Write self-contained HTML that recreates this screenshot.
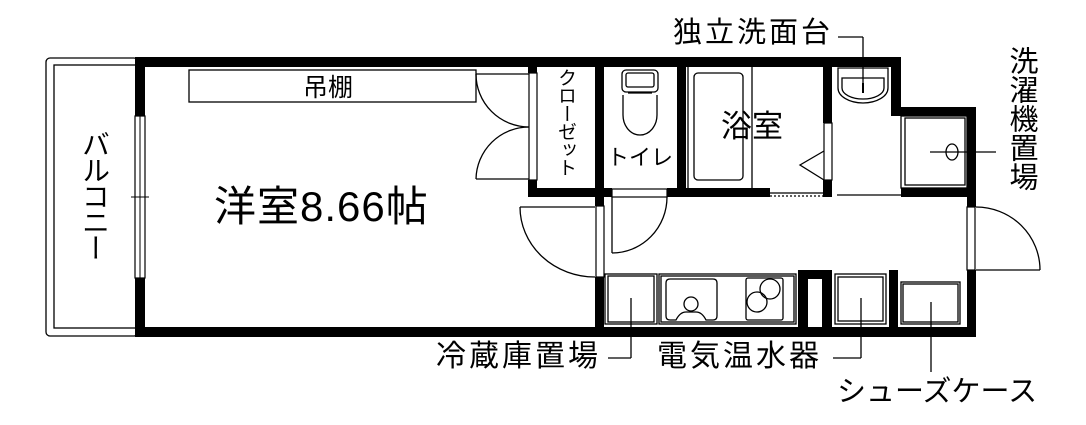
<!DOCTYPE html>
<html><head><meta charset="utf-8"><style>
html,body{margin:0;padding:0;background:#fff;}
body{width:1086px;height:425px;position:relative;overflow:hidden;font-family:"Liberation Sans","Noto Sans CJK JP",sans-serif;color:#000;}
svg{position:absolute;left:0;top:0;}
.t{position:absolute;white-space:nowrap;line-height:1;}
.v{position:absolute;writing-mode:vertical-rl;line-height:1;white-space:nowrap;}
</style></head><body>
<svg width="1086" height="425" viewBox="0 0 1086 425">
<g fill="none" stroke="#000" stroke-width="1.3">
  <rect x="46" y="58" width="92" height="278" rx="4"/>
  <rect x="54" y="65" width="84" height="263"/>
  <rect x="189" y="70" width="287" height="32"/>
  <line x1="476" y1="74" x2="529" y2="74"/>
  <line x1="529" y1="179" x2="476" y2="179"/>
  <path d="M476 74 A53 53 0 0 0 529 127"/>
  <path d="M476 179 A53 53 0 0 1 529 127"/>
  <line x1="520" y1="207" x2="595" y2="207"/>
  <path d="M520 207 A75 70 0 0 0 595 277"/>
  <line x1="612" y1="197" x2="612" y2="253"/>
  <path d="M667 197 A55 56 0 0 1 612 253"/>
  <line x1="976" y1="270" x2="1040" y2="270"/>
  <path d="M976 207 A64 63 0 0 1 1040 270"/>
  <rect x="622" y="70" width="36" height="22" rx="4"/>
  <rect x="626" y="73" width="28" height="14" rx="2"/>
  <line x1="628" y1="93" x2="652" y2="93"/>
  <path d="M623 95 L623 115 A17 20 0 0 0 657 115 L657 95"/>
  <rect x="694" y="73" width="49" height="107" rx="4"/>
  <line x1="752" y1="67" x2="752" y2="188"/>
  <line x1="688" y1="67" x2="688" y2="188"/>
  <path d="M824 151 L800 165 L824 180"/>
  <path d="M838 68 L888 68 L888 88 A25 15 0 0 1 838 88 Z"/>
  <path d="M842 78 L884 78 L884 88 A21 11 0 0 1 842 88 Z"/>
  <rect x="905" y="118" width="60" height="67"/>
  <rect x="901" y="116" width="66" height="72"/>
  <ellipse cx="952" cy="152" rx="6" ry="8"/>
  <line x1="930" y1="152" x2="996" y2="152"/>
  <line x1="837" y1="195" x2="901" y2="195"/>
  <line x1="770" y1="196" x2="832" y2="196" stroke-dasharray="2 2"/>
  <line x1="770" y1="193" x2="832" y2="193"/>
  <rect x="605" y="274" width="52" height="50"/>
  <rect x="608" y="276" width="46" height="46"/>
  <rect x="659" y="274" width="137" height="50"/>
  <rect x="661" y="276" width="133" height="46"/>
  <path d="M666 283 Q666 279 670 279 L713 279 Q717 279 717 283 L717 316 Q717 320 713 320 L706 320 Q702 312 696 312 L686 312 Q680 312 676 320 L670 320 Q666 320 666 316 Z"/>
  <circle cx="691" cy="304" r="7"/>
  <rect x="746" y="278" width="37" height="42" rx="2"/>
  <circle cx="770" cy="289" r="10"/>
  <circle cx="757" cy="302" r="10"/>
  <rect x="835" y="274" width="51" height="50"/>
  <rect x="838" y="277" width="45" height="44"/>
  <rect x="901" y="282" width="59" height="42"/>
  <rect x="903" y="284" width="55" height="38"/>
  <line x1="631" y1="298" x2="631" y2="358"/>
  <line x1="608" y1="358" x2="631" y2="358"/>
  <line x1="861" y1="298" x2="861" y2="358"/>
  <line x1="833" y1="358" x2="861" y2="358"/>
  <line x1="931" y1="302" x2="931" y2="372"/>
  <line x1="838" y1="37" x2="863" y2="37"/>
  <line x1="863" y1="37" x2="863" y2="88"/>
</g>
<g fill="#000">
  <rect x="135" y="57" width="766" height="10"/>
  <rect x="135" y="57" width="10" height="59"/>
  <rect x="135" y="278" width="10" height="58"/>
  <rect x="135" y="327" width="841" height="10"/>
  <rect x="891" y="57" width="10" height="59"/>
  <rect x="891" y="107" width="85" height="9"/>
  <rect x="967" y="107" width="9" height="100"/>
  <rect x="967" y="270" width="9" height="67"/>
  <rect x="528" y="57" width="9" height="16"/>
  <rect x="528" y="180" width="9" height="17"/>
  <rect x="528" y="188" width="77" height="9"/>
  <rect x="595" y="57" width="9" height="149"/>
  <rect x="595" y="277" width="9" height="60"/>
  <rect x="677" y="57" width="9" height="140"/>
  <rect x="604" y="188" width="8" height="9"/>
  <rect x="667" y="188" width="103" height="9"/>
  <rect x="823" y="57" width="9" height="66"/>
  <rect x="823" y="180" width="9" height="17"/>
  <rect x="901" y="188" width="75" height="9"/>
  <rect x="798" y="270" width="34" height="67"/>
  <rect x="889" y="270" width="9" height="60"/>
  <rect x="862" y="83" width="2" height="10"/>
</g>
<rect x="808" y="279" width="14" height="48" fill="#fff"/>
<g fill="#fff" stroke="#000" stroke-width="1.2">
  <rect x="135" y="116" width="10" height="162"/>
  <rect x="529" y="73" width="8" height="107"/>
  <rect x="596" y="206" width="8" height="71"/>
  <rect x="612" y="189" width="55" height="8"/>
  <rect x="824" y="123" width="8" height="57"/>
  <rect x="967" y="207" width="8" height="63"/>
</g>
<g stroke="#000" stroke-width="1">
  <line x1="140" y1="116" x2="140" y2="278"/>
  <line x1="131" y1="197" x2="149" y2="197"/>
</g>
</svg>
<div class="t" style="left:303px;top:76px;font-size:25px;">吊棚</div>
<div class="t" style="left:214px;top:186px;font-size:42px;letter-spacing:1px;">洋室8.66帖</div>
<div class="v" style="left:80px;top:130px;font-size:28px;letter-spacing:-2px;">バルコニー</div>
<div class="v" style="left:556px;top:68px;font-size:19px;letter-spacing:-1px;">クローゼット</div>
<div class="t" style="left:607px;top:147px;font-size:22px;">トイレ</div>
<div class="t" style="left:721px;top:111px;font-size:31px;">浴室</div>
<div class="t" style="left:673px;top:19px;font-size:29px;letter-spacing:3px;">独立洗面台</div>
<div class="v" style="left:1006px;top:46px;font-size:29px;">洗濯機置場</div>
<div class="t" style="left:436px;top:342px;font-size:30px;letter-spacing:3px;">冷蔵庫置場</div>
<div class="t" style="left:657px;top:342px;font-size:30px;letter-spacing:3px;">電気温水器</div>
<div class="t" style="left:837px;top:378px;font-size:29px;">シューズケース</div>
</body></html>
